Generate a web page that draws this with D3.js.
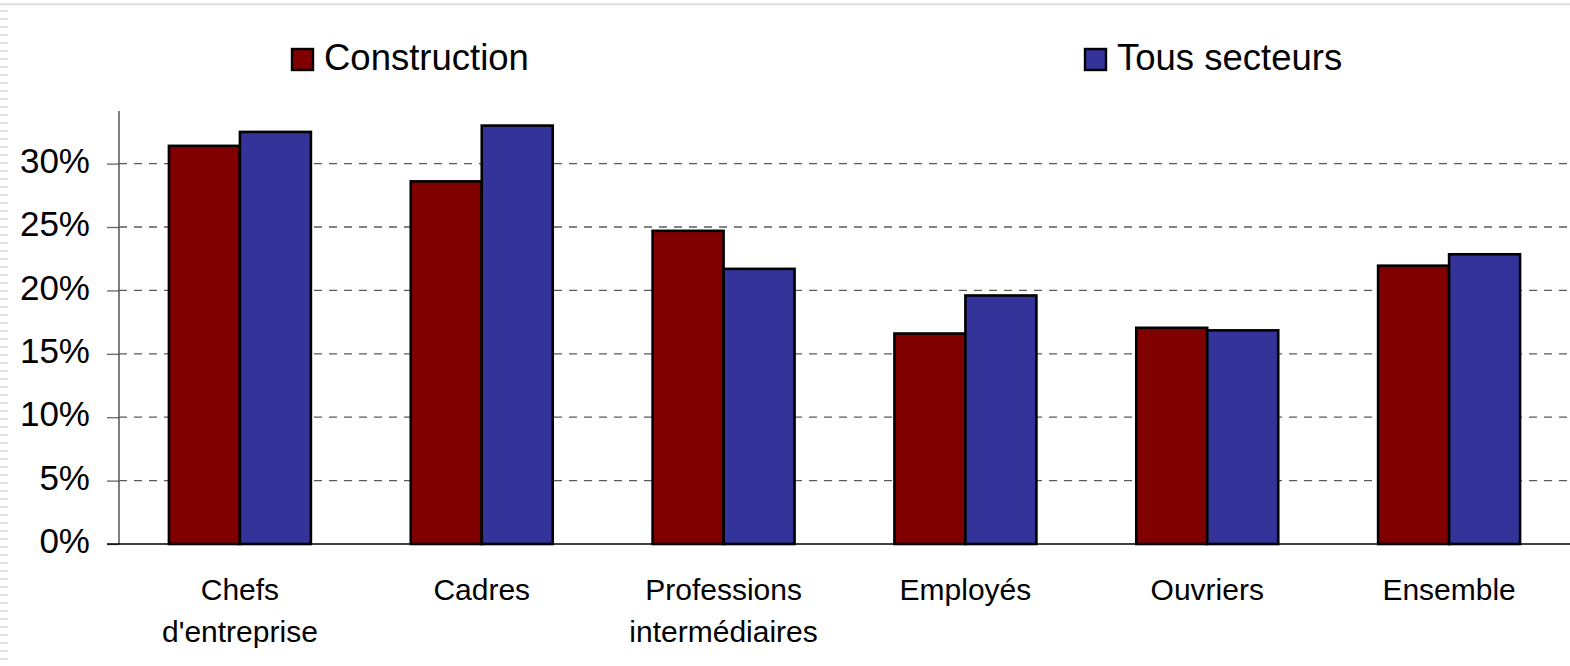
<!DOCTYPE html>
<html>
<head>
<meta charset="utf-8">
<script src="https://cdn.jsdelivr.net/npm/d3@7"></script>
<style>
  html, body { margin: 0; padding: 0; background: #fff; }
  svg { display: block; }
  text { font-family: "Liberation Sans", Arial, sans-serif; fill: #000; }
</style>
</head>
<body>
<svg id="chart" width="1570" height="666"></svg>
<script>
const categories = [["Chefs", "d'entreprise"], ["Cadres"], ["Professions", "intermédiaires"], ["Employés"], ["Ouvriers"], ["Ensemble"]];
const seriesNames = ["Construction", "Tous secteurs"];
const construction = [31.4, 28.6, 24.7, 16.6, 17.05, 21.95];
const tousSecteurs = [32.5, 33.0, 21.7, 19.6, 16.85, 22.85];
const yTicks = [0, 5, 10, 15, 20, 25, 30];
const colors = ["#800000", "#333399"];

const W = 1570, H = 666;
const svg = d3.select("#chart");

// frame decoration
svg.append("line").attr("x1", 0).attr("x2", W).attr("y1", 4.3).attr("y2", 4.3)
  .attr("stroke", "#dcdcdc").attr("stroke-width", 2);
svg.append("line").attr("x1", 4).attr("x2", 4).attr("y1", 10).attr("y2", H)
  .attr("stroke", "#e2e2e2").attr("stroke-width", 8).attr("stroke-dasharray", "2,6");

const x0 = 119, x1 = 1570;
const y = d3.scaleLinear().domain([0, 34.15]).range([544, 111]);
const x = d3.scaleBand().domain(d3.range(categories.length)).range([x0, x1])
  .paddingInner(0.413).paddingOuter(0.2065);
const xs = d3.scaleBand().domain([0, 1]).range([0, x.bandwidth()]);

// gridlines
svg.append("g").selectAll("line").data(yTicks.filter(d => d > 0)).join("line")
  .attr("x1", x0).attr("x2", x1)
  .attr("y1", d => y(d)).attr("y2", d => y(d))
  .attr("stroke", "#5a5a5a").attr("stroke-width", 1.3).attr("stroke-dasharray", "8,7");

// y axis
const yAxis = d3.axisLeft(y).tickValues(yTicks).tickSize(12).tickFormat(d => d + "%");
const gy = svg.append("g").attr("transform", `translate(${x0},0)`).call(yAxis);
gy.select(".domain").remove();
gy.selectAll(".tick line").attr("stroke", "#666").attr("stroke-width", 1.3);
gy.selectAll(".tick text").attr("x", -29).attr("dy", "0.25em")
  .style("font-size", "35px").style("font-family", '"Liberation Sans", Arial, sans-serif').attr("fill", "#000");
svg.append("line").attr("x1", x0).attr("x2", x0).attr("y1", y.range()[1]).attr("y2", y(0))
  .attr("stroke", "#555").attr("stroke-width", 1.5);

// bars
const data = categories.map((c, i) => [construction[i], tousSecteurs[i]]);
const groups = svg.append("g").selectAll("g").data(data).join("g")
  .attr("transform", (d, i) => `translate(${x(i)},0)`);
groups.selectAll("rect").data(d => d.map((v, k) => ({ v, k }))).join("rect")
  .attr("x", d => xs(d.k))
  .attr("width", xs.bandwidth())
  .attr("y", d => y(d.v))
  .attr("height", d => y(0) - y(d.v))
  .attr("fill", d => colors[d.k])
  .attr("stroke", "#000").attr("stroke-width", 2.6);

// x axis line
svg.append("line").attr("x1", x0 - 12).attr("x2", x1).attr("y1", y(0)).attr("y2", y(0))
  .attr("stroke", "#000").attr("stroke-width", 1.5);

// category labels
const lab = svg.append("g").selectAll("text").data(categories).join("text")
  .attr("text-anchor", "middle")
  .attr("x", (d, i) => x(i) + x.bandwidth() / 2)
  .attr("y", 600)
  .style("font-size", "30px");
lab.selectAll("tspan").data(d => d).join("tspan")
  .attr("x", function () { return d3.select(this.parentNode).attr("x"); })
  .attr("dy", (d, i) => i === 0 ? 0 : 42)
  .text(d => d);

// legend
const legendX = [291, 1084];
const leg = svg.append("g").selectAll("g").data(seriesNames).join("g")
  .attr("transform", (d, i) => `translate(${legendX[i]},48)`);
leg.append("rect").attr("x", 1).attr("y", 1).attr("width", 21).attr("height", 21)
  .attr("fill", (d, i) => colors[i]).attr("stroke", "#000").attr("stroke-width", 2.4);
leg.append("text").attr("x", 33).attr("y", 22).style("font-size", "36.5px").text(d => d);
</script>
</body>
</html>
